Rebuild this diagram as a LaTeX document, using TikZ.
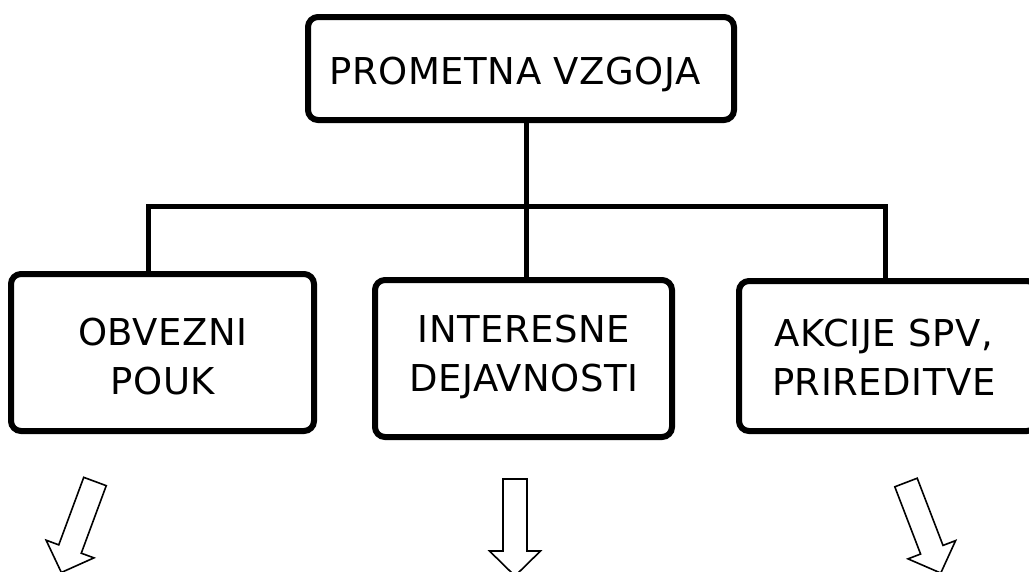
\documentclass[tikz,border=0pt]{standalone}
\usepackage{fontspec}
\setmainfont[LetterSpace=1.5]{DejaVu Sans}
\usetikzlibrary{backgrounds}
\tikzset{
  box/.style={draw, line width=6pt, rounded corners=10pt, fill=white, outer sep=0pt, inner sep=0pt},
  txt/.style={align=center, font=\fontsize{37}{49}\selectfont, inner sep=0pt},
  conn/.style={line width=5pt, line join=miter},
  shade/.style={line width=6pt, rounded corners=10pt},
  blockarrow/.pic={
    \draw[line width=1.6pt, line join=miter, fill=white]
      (-12,0) -- (-12,-72) -- (-25.5,-72) -- (0,-97) -- (25.5,-72) -- (12,-72) -- (12,0) -- cycle;
  }
}
\begin{document}
\begin{tikzpicture}[x=1pt,y=1pt]
\useasboundingbox (0,0) rectangle (1029,-571);
\clip (0,0) rectangle (1029,-571);
\fill[white] (0,0) rectangle (1029,-571);
% boxes
\node[box, minimum width=426pt, minimum height=103pt] (top) at (521,-68.5) {};
\node[box, minimum width=303pt, minimum height=157pt] (left) at (162.5,-352.5) {};
\node[box, minimum width=297pt, minimum height=157pt] (mid) at (523.5,-358.5) {};
\node[box, minimum width=298pt, minimum height=150pt] (right) at (888,-356) {};
% texts
\node[txt] (topt) at (515,-74) {PROMETNA VZGOJA};
\node[txt] (leftt) at (163,-357) {OBVEZNI\\POUK};
\node[txt] (midt) at (524,-356.5) {INTERESNE\\DEJAVNOSTI};
\node[txt] (rightt) at (884,-357.5) {AKCIJE SPV,\\PRIREDITVE};
% shadows
\begin{scope}[on background layer]
\foreach \n in {top,left,mid,right}{
  \draw[shade] ([yshift=-3pt]\n.south west) rectangle ([yshift=-3pt]\n.north east);
}
\end{scope}
% connectors
\coordinate (hub) at (526,-206);
\coordinate (la) at (148,-206);
\coordinate (ra) at (885,-206);
\draw[conn] (hub |- top.south) -- (hub |- mid.north);
\draw[conn] (la |- left.north) -- (la) -- (ra) -- (ra |- right.north);
% block arrows
\pic (arrL) at (95,-481.5) [rotate=-20.3] {blockarrow};
\pic (arrM) at (515,-479) {blockarrow};
\pic (arrR) at (906,-482.5) [rotate=21] {blockarrow};
\end{tikzpicture}
\end{document}
